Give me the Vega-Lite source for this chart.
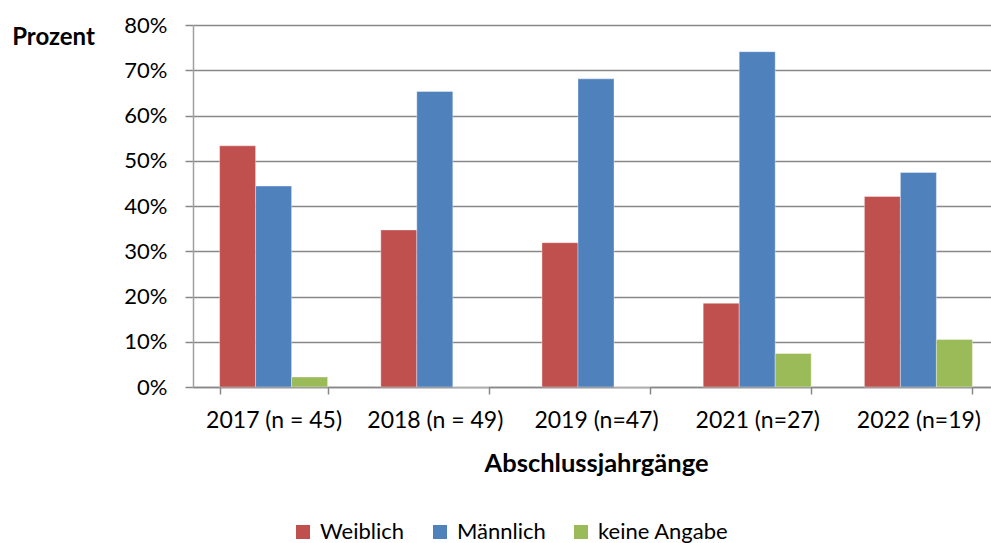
{
  "$schema": "https://vega.github.io/schema/vega-lite/v6.json",
  "width": 806,
  "height": 362,
  "autosize": {"type": "none"},
  "padding": {"left": 193, "top": 25, "right": 0, "bottom": 156},
  "background": "white",
  "config": {
    "view": {"stroke": null},
    "font": "Lato"
  },
  "data": {
    "values": [
      {"jahr": "2017 (n = 45)", "geschlecht": "Weiblich", "anteil": 0.533},
      {"jahr": "2017 (n = 45)", "geschlecht": "Männlich", "anteil": 0.444},
      {"jahr": "2017 (n = 45)", "geschlecht": "keine Angabe", "anteil": 0.022},
      {"jahr": "2018 (n = 49)", "geschlecht": "Weiblich", "anteil": 0.347},
      {"jahr": "2018 (n = 49)", "geschlecht": "Männlich", "anteil": 0.653},
      {"jahr": "2018 (n = 49)", "geschlecht": "keine Angabe", "anteil": 0.0},
      {"jahr": "2019 (n=47)", "geschlecht": "Weiblich", "anteil": 0.319},
      {"jahr": "2019 (n=47)", "geschlecht": "Männlich", "anteil": 0.681},
      {"jahr": "2019 (n=47)", "geschlecht": "keine Angabe", "anteil": 0.0},
      {"jahr": "2021 (n=27)", "geschlecht": "Weiblich", "anteil": 0.185},
      {"jahr": "2021 (n=27)", "geschlecht": "Männlich", "anteil": 0.741},
      {"jahr": "2021 (n=27)", "geschlecht": "keine Angabe", "anteil": 0.074},
      {"jahr": "2022 (n=19)", "geschlecht": "Weiblich", "anteil": 0.421},
      {"jahr": "2022 (n=19)", "geschlecht": "Männlich", "anteil": 0.474},
      {"jahr": "2022 (n=19)", "geschlecht": "keine Angabe", "anteil": 0.105}
    ]
  },
  "mark": {"type": "bar", "stroke": "#ffffff", "strokeWidth": 0.6, "strokeOpacity": 0.6},
  "encoding": {
    "x": {
      "field": "jahr",
      "type": "nominal",
      "sort": null,
      "scale": {"paddingInner": 0.33, "paddingOuter": 0.165},
      "axis": {
        "labelAngle": 0,
        "labelFont": "Lato",
        "labelFontSize": 23,
        "labelColor": "#000000",
        "labelPadding": 15,
        "tickBand": "extent",
        "ticks": true,
        "tickSize": 7,
        "tickColor": "#888888",
        "tickWidth": 1.5,
        "domainColor": "#888888",
        "domainWidth": 1.5,
        "grid": false,
        "title": "Abschlussjahrgänge",
        "titleFont": "Lato",
        "titleFontSize": 25.5,
        "titleFontWeight": "bold",
        "titleColor": "#000000",
        "titlePadding": 19
      }
    },
    "xOffset": {
      "field": "geschlecht",
      "sort": ["Weiblich", "Männlich", "keine Angabe"],
      "scale": {"paddingInner": 0, "paddingOuter": 0}
    },
    "y": {
      "field": "anteil",
      "type": "quantitative",
      "scale": {"domain": [0, 0.8], "nice": false},
      "axis": {
        "values": [0, 0.1, 0.2, 0.3, 0.4, 0.5, 0.6, 0.7, 0.8],
        "format": ".0%",
        "labelFont": "Lato",
        "labelFontSize": 22,
        "labelColor": "#000000",
        "labelPadding": 18,
        "tickSize": 8,
        "tickColor": "#888888",
        "tickWidth": 1.5,
        "domainColor": "#a0a0a0",
        "domainWidth": 1.5,
        "grid": true,
        "gridColor": "#888888",
        "gridWidth": 1.5,
        "title": "Prozent",
        "titleAngle": 0,
        "titleAlign": "center",
        "titleBaseline": "alphabetic",
        "titleX": -140,
        "titleY": 19,
        "titleFont": "Lato",
        "titleFontSize": 24,
        "titleFontWeight": "bold",
        "titleColor": "#000000"
      }
    },
    "color": {
      "field": "geschlecht",
      "type": "nominal",
      "sort": ["Weiblich", "Männlich", "keine Angabe"],
      "scale": {
        "domain": ["Weiblich", "Männlich", "keine Angabe"],
        "range": ["#C0504D", "#4F81BD", "#9BBB59"]
      },
      "legend": {
        "title": null,
        "orient": "none",
        "legendX": 99,
        "legendY": 496,
        "direction": "horizontal",
        "padding": 0,
        "symbolType": "square",
        "symbolSize": 196,
        "symbolStrokeWidth": 0,
        "symbolOpacity": 1,
        "labelFont": "Lato",
        "labelFontSize": 22,
        "labelColor": "#000000",
        "labelOffset": 6,
        "columnPadding": 24
      }
    }
  }
}
